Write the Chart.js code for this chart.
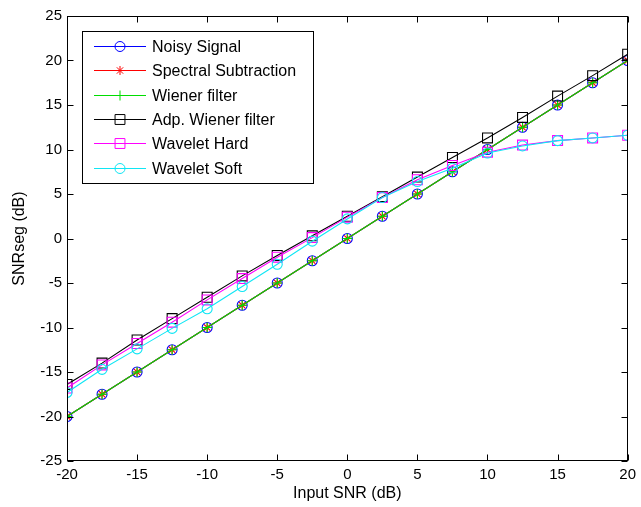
<!DOCTYPE html>
<html>
<head>
<meta charset="utf-8">
<script src="https://cdn.jsdelivr.net/npm/chart.js@4/dist/chart.umd.min.js"></script>
<style>
html, body { margin: 0; padding: 0; background: #fff; }
</style>
</head>
<body>
<canvas id="snrChart" width="641" height="507"></canvas>
<script>
// data
const snrIn = [-20, -17.5, -15, -12.5, -10, -7.5, -5, -2.5, 0, 2.5, 5, 7.5, 10, 12.5, 15, 17.5, 20];
const noisy = [-20, -17.5, -15, -12.5, -10, -7.5, -5, -2.5, 0, 2.5, 5, 7.5, 10, 12.5, 15, 17.5, 20];
const spectral = [-20, -17.5, -15, -12.5, -10, -7.5, -5, -2.5, 0, 2.5, 5, 7.5, 10, 12.5, 15, 17.5, 20];
const wiener = [-20, -17.5, -15, -12.5, -10, -7.5, -5, -2.5, 0, 2.5, 5, 7.5, 10, 12.5, 15, 17.5, 20];
const adpWiener = [-16.4, -14.0, -11.4, -9.0, -6.6, -4.2, -1.9, 0.3, 2.5, 4.7, 6.9, 9.1, 11.3, 13.6, 16.0, 18.3, 20.7];
const wavHard = [-16.8, -14.2, -11.8, -9.4, -6.9, -4.5, -2.1, 0.1, 2.4, 4.6, 6.6, 8.2, 9.7, 10.5, 11.0, 11.3, 11.6];
const wavSoft = [-17.3, -14.7, -12.4, -10.1, -7.9, -5.4, -2.9, -0.3, 2.2, 4.6, 6.4, 7.9, 9.6, 10.4, 11.0, 11.3, 11.6];

const xTicks = [-20, -15, -10, -5, 0, 5, 10, 15, 20];
const yTicks = [-25, -20, -15, -10, -5, 0, 5, 10, 15, 20, 25];

const FONT = '"Liberation Sans", Arial, Helvetica, sans-serif';

function pts(ys) {
    return snrIn.map((x, i) => ({ x: x, y: ys[i] }));
}

function series(label, ys, color, style, r) {
    return {
        label: label,
        data: pts(ys),
        borderColor: color,
        backgroundColor: 'rgba(0,0,0,0)',
        borderWidth: 1.1,
        pointStyle: style,
        pointRadius: r,
        pointBorderColor: color,
        pointBackgroundColor: 'rgba(0,0,0,0)',
        pointBorderWidth: 1.1,
        tension: 0
    };
}

const datasets = [
    series('Noisy Signal', noisy, '#0000ff', 'circle', 5),
    series('Spectral Subtraction', spectral, '#ff0000', 'star', 4.5),
    series('Wiener filter', wiener, '#00dd00', 'cross', 5),
    series('Adp. Wiener filter', adpWiener, '#000000', 'rect', 7),
    series('Wavelet Hard', wavHard, '#ff00ff', 'rect', 7),
    series('Wavelet Soft', wavSoft, '#10e6f4', 'circle', 5)
];
// later series on top, like the original plot
datasets.forEach((d, i) => { d.order = datasets.length - i; });

function marker(ctx, style, r, x, y) {
    ctx.beginPath();
    if (style === 'circle') {
        ctx.arc(x, y, r, 0, Math.PI * 2);
    } else if (style === 'rect') {
        const s = r * Math.SQRT1_2;
        ctx.rect(x - s, y - s, 2 * s, 2 * s);
    } else {
        ctx.moveTo(x - r, y); ctx.lineTo(x + r, y);
        ctx.moveTo(x, y - r); ctx.lineTo(x, y + r);
        if (style === 'star') {
            const d = r * Math.SQRT1_2;
            ctx.moveTo(x - d, y - d); ctx.lineTo(x + d, y + d);
            ctx.moveTo(x - d, y + d); ctx.lineTo(x + d, y - d);
        }
    }
    ctx.stroke();
}

// box round the axes with inward ticks on all four sides
const frame = {
    id: 'frame',
    afterDatasetsDraw(chart) {
        const ctx = chart.ctx;
        const a = chart.chartArea;
        const xs = chart.scales.x, ys = chart.scales.y;
        const L = Math.round(a.left) + 0.5, R = Math.round(a.right) - 0.5;
        const T = Math.round(a.top) + 0.5, B = Math.round(a.bottom) - 0.5;
        const len = 6;
        ctx.save();
        ctx.strokeStyle = '#000';
        ctx.lineWidth = 1;
        ctx.strokeRect(L, T, R - L, B - T);
        ctx.beginPath();
        xTicks.forEach(v => {
            const px = Math.round(xs.getPixelForValue(v)) + 0.5;
            ctx.moveTo(px, B); ctx.lineTo(px, B - len);
            ctx.moveTo(px, T); ctx.lineTo(px, T + len);
        });
        yTicks.forEach(v => {
            const py = Math.round(ys.getPixelForValue(v)) + 0.5;
            ctx.moveTo(L, py); ctx.lineTo(L + len, py);
            ctx.moveTo(R, py); ctx.lineTo(R - len, py);
        });
        ctx.stroke();
        ctx.restore();
    }
};

const legendBox = {
    id: 'legendBox',
    afterDraw(chart) {
        const ctx = chart.ctx;
        const x0 = 82.5, y0 = 31.5, w = 231, h = 152;
        ctx.save();
        ctx.fillStyle = '#fff';
        ctx.fillRect(x0, y0, w, h);
        ctx.strokeStyle = '#000';
        ctx.lineWidth = 1;
        ctx.strokeRect(x0, y0, w, h);
        ctx.font = '16px ' + FONT;
        ctx.textBaseline = 'middle';
        chart.data.datasets.forEach((ds, i) => {
            const y = Math.round(46 + i * 24.3) + 0.5;
            ctx.strokeStyle = ds.borderColor;
            ctx.beginPath();
            ctx.moveTo(94, y);
            ctx.lineTo(146, y);
            ctx.stroke();
            marker(ctx, ds.pointStyle, ds.pointRadius, 120, y);
            ctx.fillStyle = '#000';
            ctx.fillText(ds.label, 152, y + 1);
        });
        ctx.restore();
    }
};

const ctx = document.querySelector('#snrChart').getContext('2d');
const chart = new Chart(ctx, {
    type: 'line',
    data: { datasets: datasets },
    options: {
        responsive: false,
        animation: false,
        devicePixelRatio: 1,
        layout: { padding: { top: 16, right: 12, left: 0, bottom: 0 } },
        scales: {
            x: {
                type: 'linear',
                min: -20,
                max: 20,
                afterBuildTicks: s => { s.ticks = xTicks.map(v => ({ value: v })); },
                afterFit: s => { s.height = 46; },
                grid: { display: false, drawTicks: false },
                border: { display: false },
                ticks: { color: '#000', font: { size: 15, family: FONT }, padding: 5, maxRotation: 0, autoSkip: false },
                title: { display: true, text: 'Input SNR (dB)', color: '#000', font: { size: 16, family: FONT }, padding: { bottom: 4 } }
            },
            y: {
                type: 'linear',
                min: -25,
                max: 25,
                afterBuildTicks: s => { s.ticks = yTicks.map(v => ({ value: v })); },
                afterFit: s => { s.width = 67; },
                grid: { display: false, drawTicks: false },
                border: { display: false },
                ticks: { color: '#000', font: { size: 15, family: FONT }, padding: 5, autoSkip: false },
                title: { display: true, text: 'SNRseg (dB)', color: '#000', font: { size: 16, family: FONT }, padding: { top: 10 } }
            }
        },
        plugins: {
            legend: { display: false },
            tooltip: { enabled: false }
        }
    },
    plugins: [frame, legendBox]
});
</script>
</body>
</html>
